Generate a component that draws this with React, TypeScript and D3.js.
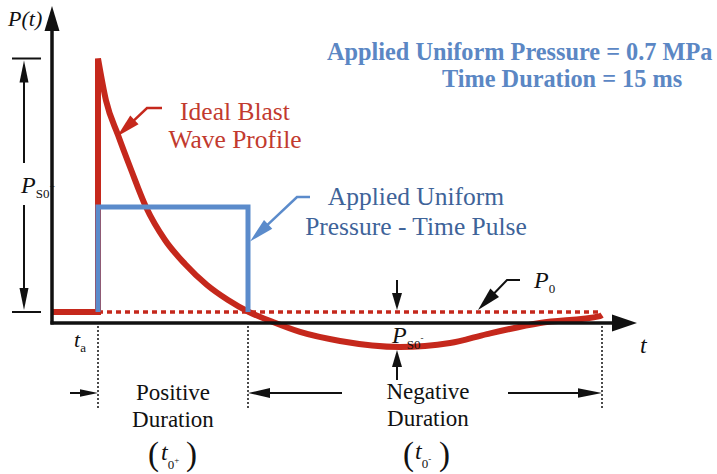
import React from "react";
import * as d3 from "d3";

const W = 717;
const H = 474;

// data (time in ms, pressure in MPa, relative to ambient P0)
const arrivalTime = 4.6;
const pulseDuration = 15;
const pulsePressure = 0.7;
const endTime = 55;
const peakPressure = 1.69;
const blastTime = [4.6, 5.4, 6.6, 7.9, 9.4, 11.3, 13.3, 15.5, 17.6, 19.7, 22.1, 24.8, 28.8, 34.8, 39.8, 43.5, 48.8, 54.8, 55.0];
const blastPressure = [1.69, 1.41, 1.18, 0.95, 0.70, 0.48, 0.32, 0.18, 0.08, 0.0, -0.067, -0.133, -0.193, -0.233, -0.207, -0.147, -0.073, -0.027, -0.02];
const titleLines = ["Applied Uniform Pressure = 0.7 MPa", "Time Duration = 15 ms"];
const blastLabel = ["Ideal Blast", "Wave Profile"];
const pulseLabel = ["Applied Uniform", "Pressure - Time Pulse"];
const positiveLabel = ["Positive", "Duration"];
const negativeLabel = ["Negative", "Duration"];

const RED = "#c5281c";
const RED_TEXT = "#c23a2e";
const BLUE = "#5b8bcb";
const BLUE_TEXT = "#3e6399";
const TITLE_BLUE = "#5b87c4";
const INK = "#111";
const SERIF = "'Liberation Serif', 'Times New Roman', serif";

const x = d3.scaleLinear().domain([0, 58.5]).range([52, 637]);
const y = d3.scaleLinear().domain([0, 1.7]).range([312, 57]);
const axisY = y(0) + 11;

type Pt = [number, number];

function head(tip: Pt, from: Pt, len: number, hw: number) {
  const dx = tip[0] - from[0];
  const dy = tip[1] - from[1];
  const d = Math.hypot(dx, dy);
  const ux = dx / d, uy = dy / d;
  const bx = tip[0] - ux * len, by = tip[1] - uy * len;
  const px = -uy * hw, py = ux * hw;
  return {
    pts: `${tip[0]},${tip[1]} ${bx + px},${by + py} ${bx - px},${by - py}`,
    base: [bx + ux * 2, by + uy * 2] as Pt,
  };
}

function Arrow({ pts, color = INK, width = 2, len = 20, hw = 5 }: { pts: Pt[]; color?: string; width?: number; len?: number; hw?: number }) {
  const tip = pts[pts.length - 1];
  const prev = pts[pts.length - 2];
  const h = head(tip, prev, len, hw);
  const linePts = [...pts.slice(0, -1), h.base];
  return (
    <g>
      <polyline points={linePts.map((p) => p.join(",")).join(" ")} fill="none" stroke={color} strokeWidth={width} />
      <polygon points={h.pts} fill={color} />
    </g>
  );
}

export default function App() {
  const line = d3.line<Pt>().x((d) => x(d[0])).y((d) => y(d[1]));
  const curve = d3.line<Pt>().x((d) => x(d[0])).y((d) => y(d[1])).curve(d3.curveMonotoneX);
  const blast: Pt[] = blastTime.map((t, i) => [t, blastPressure[i]]);
  const step: Pt[] = [[0, 0], [arrivalTime, 0], [arrivalTime, peakPressure]];
  const pulse: Pt[] = [
    [arrivalTime, 0],
    [arrivalTime, pulsePressure],
    [arrivalTime + pulseDuration, pulsePressure],
    [arrivalTime + pulseDuration, 0],
  ];
  const x0 = x(0);
  const xa = x(arrivalTime);
  const xp = x(arrivalTime + pulseDuration);
  const xe = x(endTime);
  const dimX = x0 - 28;
  const durY = 393;
  const xMin = x(34.5);
  const tick = (xx: number) => (
    <line x1={xx} x2={xx} y1={axisY + 3} y2={410} stroke={INK} strokeWidth={1.5} strokeDasharray="2 2" />
  );

  return (
    <svg width={W} height={H} style={{ position: "absolute", left: 0, top: 0, background: "#fff" }} fontFamily={SERIF}>
      {/* ambient dotted line */}
      <line x1={xa} x2={xe} y1={y(0)} y2={y(0)} stroke={RED} strokeWidth={3.5} strokeDasharray="5 4" />
      {/* blast wave */}
      <path d={line(step) || ""} fill="none" stroke={RED} strokeWidth={6} />
      <path d={curve(blast) || ""} fill="none" stroke={RED} strokeWidth={6} />
      {/* pulse */}
      <path d={line(pulse) || ""} fill="none" stroke={BLUE} strokeWidth={5} />

      {/* axes */}
      <line x1={x0} x2={x0} y1={axisY + 1.5} y2={28} stroke={INK} strokeWidth={3.5} />
      <polygon points={`${x0},6 ${x0 - 7.5},31 ${x0 + 7.5},31`} fill={INK} />
      <line x1={x0 - 1.5} x2={615} y1={axisY} y2={axisY} stroke={INK} strokeWidth={3.5} />
      <polygon points={`637,${axisY} 612,${axisY - 8.5} 612,${axisY + 8.5}`} fill={INK} />
      <text x={8} y={26} fontSize={22} fontStyle="italic" fill={INK}>P(t)</text>
      <text x={640} y={353} fontSize={24} fontStyle="italic" fill={INK}>t</text>

      {/* dotted verticals */}
      {tick(xa)}
      {tick(xp)}
      {tick(xe)}

      {/* P_S0+ dimension */}
      <line x1={12} x2={41} y1={y(peakPressure)} y2={y(peakPressure)} stroke={INK} strokeWidth={2} />
      <line x1={12} x2={41} y1={y(0)} y2={y(0)} stroke={INK} strokeWidth={2} />
      <Arrow pts={[[dimX, 163], [dimX, y(peakPressure) + 2]]} len={22} hw={4.5} />
      <Arrow pts={[[dimX, 205], [dimX, y(0) - 2]]} len={22} hw={4.5} />
      <text x={21} y={193} fontSize={24} fontStyle="italic" fill={INK}>
        P<tspan fontStyle="normal" fontSize={13} dy={5}>S0</tspan>
        <tspan fontStyle="normal" fontSize={10} dy={-8}>+</tspan>
      </text>

      {/* t_a */}
      <text x={74} y={347} fontSize={22} fontStyle="italic" fill={INK}>
        t<tspan fontStyle="normal" fontSize={13} dy={5}>a</tspan>
      </text>

      {/* duration arrows */}
      <Arrow pts={[[70, durY], [xa, durY]]} len={18} hw={3.8} />
      <Arrow pts={[[342, durY], [xp, durY]]} len={22} hw={5} />
      <Arrow pts={[[508, durY], [xe, durY]]} len={24} hw={4.8} />

      {/* P_S0- */}
      <Arrow pts={[[xMin, 280], [xMin, y(0) - 2]]} len={17} hw={5} />
      <Arrow pts={[[xMin, 380], [xMin, 350]]} len={17} hw={5} />
      <text x={392} y={343} fontSize={24} fontStyle="italic" fill={INK}>
        P<tspan fontStyle="normal" fontSize={13} dy={6}>S0</tspan>
        <tspan fontStyle="normal" fontSize={9} dy={-8}>-</tspan>
      </text>

      {/* P0 */}
      <Arrow pts={[[520, 280], [507, 280], [x(42.6), y(0) - 2]]} len={24} hw={6} />
      <text x={534} y={288} fontSize={24} fontStyle="italic" fill={INK}>
        P<tspan fontStyle="normal" fontSize={13} dy={5}>0</tspan>
      </text>

      {/* duration labels */}
      {positiveLabel.map((s, i) => (
        <text key={s} x={173} y={400 + i * 27} fontSize={23} textAnchor="middle" fill={INK}>{s}</text>
      ))}
      {negativeLabel.map((s, i) => (
        <text key={s + i} x={428} y={399 + i * 27} fontSize={23} textAnchor="middle" fill={INK}>{s}</text>
      ))}
      <text x={148} y={465} fontSize={33} fill={INK}>(</text>
      <text x={161} y={460} fontSize={24} fontStyle="italic" fill={INK}>
        t<tspan fontStyle="normal" fontSize={13} dy={9}>0</tspan>
        <tspan fontStyle="normal" fontSize={9} dy={-6}>+</tspan>
      </text>
      <text x={186} y={465} fontSize={33} fill={INK}>)</text>
      <text x={403} y={465} fontSize={33} fill={INK}>(</text>
      <text x={415} y={459} fontSize={24} fontStyle="italic" fill={INK}>
        t<tspan fontStyle="normal" fontSize={13} dy={9}>0</tspan>
        <tspan fontStyle="normal" fontSize={9} dy={-6}>-</tspan>
      </text>
      <text x={439} y={465} fontSize={33} fill={INK}>)</text>

      {/* annotations */}
      <Arrow pts={[[162, 108], [147, 108], [x(6.5), y(1.17)]]} color={RED} width={2.5} len={24} hw={6} />
      {blastLabel.map((s, i) => (
        <text key={s} x={235} y={120 + i * 28} fontSize={25.5} textAnchor="middle" fill={RED_TEXT}>{s}</text>
      ))}
      <Arrow pts={[[310, 197], [297, 197], [xp + 2, y(0.47)]]} color={BLUE} width={2.5} len={25} hw={6} />
      {pulseLabel.map((s, i) => (
        <text key={s} x={416} y={205 + i * 30} fontSize={25.5} textAnchor="middle" fill={BLUE_TEXT}>{s}</text>
      ))}

      {/* title */}
      <text x={327} y={60} fontSize={24.3} fontWeight="bold" fill={TITLE_BLUE}>{titleLines[0]}</text>
      <text x={442} y={87} fontSize={24.3} fontWeight="bold" fill={TITLE_BLUE}>{titleLines[1]}</text>
    </svg>
  );
}
